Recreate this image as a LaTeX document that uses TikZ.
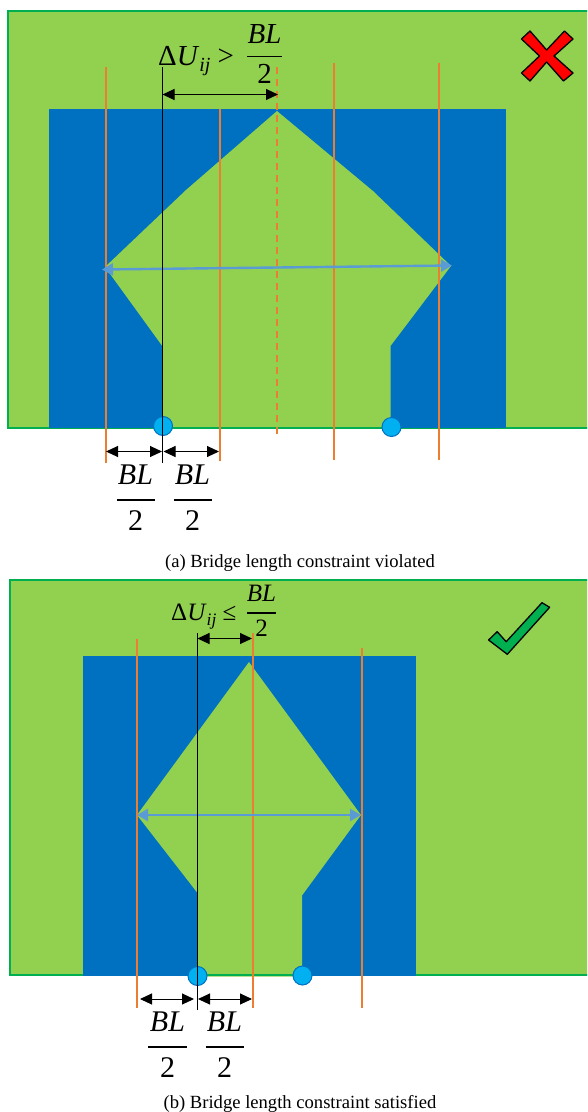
\documentclass[tikz,border=0pt]{standalone}
\usepackage{fontspec}
\setmainfont{Liberation Serif}
\usetikzlibrary{arrows.meta}
\definecolor{padgreen}{HTML}{92D050}
\definecolor{edgegreen}{HTML}{00B050}
\definecolor{metalblue}{HTML}{0070C0}
\definecolor{guidecol}{HTML}{ED7D31}
\definecolor{spancol}{HTML}{5B9BD5}
\definecolor{pincol}{HTML}{00B0F0}
\tikzset{
  board/.style={fill=padgreen,draw=edgegreen,line width=1.5pt},
  metal/.style={fill=metalblue,draw=none},
  gapfill/.style={fill=padgreen,draw=none},
  guideline/.style={draw=guidecol,line width=1.8pt},
  refline/.style={draw=black,line width=1pt},
  dimline/.style={draw=black,line width=1pt,{Triangle[length=12pt,width=11pt]}-{Triangle[length=12pt,width=11pt]}},
  spanarrow/.style={draw=spancol,line width=2.4pt,{Triangle[length=11pt,width=12pt]}-{Triangle[length=11pt,width=12pt]}},
  pindot/.style={circle,fill=pincol,draw=metalblue,line width=1pt,minimum width=18pt,minimum height=19pt,inner sep=0pt},
  lbl/.style={anchor=base,inner sep=0pt,text=black},
  fracbar/.style={draw=black,line width=2pt},
  captext/.style={anchor=base,inner sep=0pt,font=\fontsize{18.6}{22}\selectfont},
  bigit/.style={font=\fontsize{30}{34}\selectfont\itshape},
  bignum/.style={font=\fontsize{30}{34}\selectfont},
}
\begin{document}
\begin{tikzpicture}[x=1pt,y=-1pt]
\useasboundingbox (0,0) rectangle (587,1112);
\begin{scope}
\clip (0,0) rectangle (587,1112);
% ---------- panel a
\draw[board] (8,11) rectangle (600,428);
\fill[metal] (49,109) rectangle (506,428);
\fill[gapfill] (277,111) -- (373,191) -- (451,266) -- (390.5,346) -- (390.5,427) -- (163,429) -- (163,347) -- (105,267) -- (186,190) -- cycle;
\draw[edgegreen,line width=1.5pt] (163,428) -- (390,428);

\coordinate (a1t) at (106,67);  \coordinate (a1b) at (106,463);
\coordinate (a2t) at (220,109); \coordinate (a2b) at (220,461);
\coordinate (a3t) at (334,63);  \coordinate (a3b) at (334,460);
\coordinate (a4t) at (439,63);  \coordinate (a4b) at (439,460);
\coordinate (a5t) at (277,67);  \coordinate (a5b) at (277,435);
\coordinate (a0t) at (162.5,67);  \coordinate (a0b) at (162.5,463);
\draw[guideline] (a1t) -- (a1b);
\draw[guideline] (a2t) -- (a2b);
\draw[guideline] (a3t) -- (a3b);
\draw[guideline] (a4t) -- (a4b);
\draw[guideline,dash pattern=on 7pt off 5pt] (a5t) -- (a5b);
\coordinate (aL) at (102,269.5); \coordinate (aR) at (452,265.5);
\draw[spanarrow] (aL) -- (aR);
\node[pindot] (apin1) at (163,426) {};
\node[pindot] (apin2) at (391.5,427) {};
\draw[refline] (a0t) -- (a0b);

\coordinate (ad1) at (162.5,94.5); \coordinate (ad2) at (278,94.5);
\draw[dimline] (ad1) -- (ad2);
\coordinate (ad3) at (106,451.5); \coordinate (ad4) at (162,451.5);
\coordinate (ad5) at (163.5,451.5); \coordinate (ad6) at (219,451.5);
\draw[dimline] (ad3) -- (ad4);
\draw[dimline] (ad5) -- (ad6);

\node[lbl,anchor=base west,font=\fontsize{29}{32}\selectfont] (aform) at (158,65) {Δ\textit{U}\raisebox{-6pt}{\fontsize{20}{22}\selectfont\textit{ij}} >};
\node[lbl,font=\fontsize{29}{32}\selectfont\itshape] (aBL) at (264.5,43.5) {BL};
\coordinate (abarl) at (247,56.3); \coordinate (abarr) at (281.5,56.3);
\draw[fracbar,line width=1.4pt] (abarl) -- (abarr);
\node[lbl,font=\fontsize{29}{32}\selectfont] (a2) at (264.5,83) {2};

\node[lbl,bigit] (aBL1) at (135.5,484) {BL};
\coordinate (ab1l) at (116.5,499.5); \coordinate (ab1r) at (155,499.5);
\draw[fracbar] (ab1l) -- (ab1r);
\node[lbl,bignum] (a21) at (135.5,530) {2};
\node[lbl,bigit] (aBL2) at (192.5,484) {BL};
\coordinate (ab2l) at (173.5,499.5); \coordinate (ab2r) at (212,499.5);
\draw[fracbar] (ab2l) -- (ab2r);
\node[lbl,bignum] (a22) at (192.5,530) {2};

\draw[fill=red,draw=black,line width=1.3pt,line join=round]
  (530,31) -- (546.6,50) -- (564.5,31) -- (573,39) -- (554,56) -- (573,73) -- (563.5,81) -- (546.6,62) -- (530,81) -- (521.5,73) -- (539.5,56) -- (521.5,39) -- cycle;

\node[captext] (capa) at (300,567) {(a) Bridge length constraint violated};

% ---------- panel b
\draw[board] (10,580) rectangle (600,975);
\fill[metal] (83,655.5) rectangle (415.5,976);
\fill[gapfill] (249,662) -- (361,815) -- (302,895.5) -- (302,976.5) -- (197.5,976.5) -- (197.5,893) -- (137,815) -- cycle;
\draw[edgegreen,line width=1.5pt] (197.5,975) -- (302,975);

\coordinate (b1t) at (137,639);   \coordinate (b1b) at (137,1008);
\coordinate (b2t) at (253,633);   \coordinate (b2b) at (253,1008);
\coordinate (b3t) at (362,648);   \coordinate (b3b) at (362,1008);
\coordinate (b0t) at (197.5,633); \coordinate (b0b) at (197.5,1010);
\draw[guideline] (b1t) -- (b1b);
\draw[guideline] (b2t) -- (b2b);
\draw[guideline] (b3t) -- (b3b);
\coordinate (bL) at (137,815); \coordinate (bR) at (361,815);
\draw[spanarrow] (bL) -- (bR);
\node[pindot] (bpin1) at (197.5,976) {};
\node[pindot] (bpin2) at (302.5,975.5) {};
\draw[refline] (b0t) -- (b0b);

\coordinate (bd1) at (197.5,638.5); \coordinate (bd2) at (252,638.5);
\draw[dimline] (bd1) -- (bd2);
\coordinate (bd3) at (140,999); \coordinate (bd4) at (194,999);
\coordinate (bd5) at (198,999); \coordinate (bd6) at (252,999);
\draw[dimline] (bd3) -- (bd4);
\draw[dimline] (bd5) -- (bd6);

\node[lbl,anchor=base west,font=\fontsize{25}{28}\selectfont] (bform) at (171,620) {Δ\textit{U}\raisebox{-5pt}{\fontsize{17.5}{20}\selectfont\textit{ij}} ≤};
\node[lbl,font=\fontsize{25}{28}\selectfont\itshape] (bBL) at (261.5,601.7) {BL};
\coordinate (bbarl) at (247,612.8); \coordinate (bbarr) at (276,612.8);
\draw[fracbar,line width=1.4pt] (bbarl) -- (bbarr);
\node[lbl,font=\fontsize{25}{28}\selectfont] (b2) at (261.5,636) {2};

\node[lbl,bigit] (bBL1) at (167.5,1031.7) {BL};
\coordinate (bb1l) at (148,1047); \coordinate (bb1r) at (186.5,1047);
\draw[fracbar] (bb1l) -- (bb1r);
\node[lbl,bignum] (b21) at (167.5,1077) {2};
\node[lbl,bigit] (bBL2) at (224.5,1031.7) {BL};
\coordinate (bb2l) at (205.5,1047); \coordinate (bb2r) at (244,1047);
\draw[fracbar] (bb2l) -- (bb2r);
\node[lbl,bignum] (b22) at (224.5,1077) {2};

\draw[fill=edgegreen,draw=black,line width=1.3pt,line join=round]
  (542,602.7) -- (549.6,607.3) -- (507.3,654.3) -- (488.6,640) -- (497.2,631.7) -- (506.2,641.7) -- cycle;

\node[captext] (capb) at (300,1108) {(b) Bridge length constraint satisfied};
\end{scope}
\end{tikzpicture}
\end{document}
